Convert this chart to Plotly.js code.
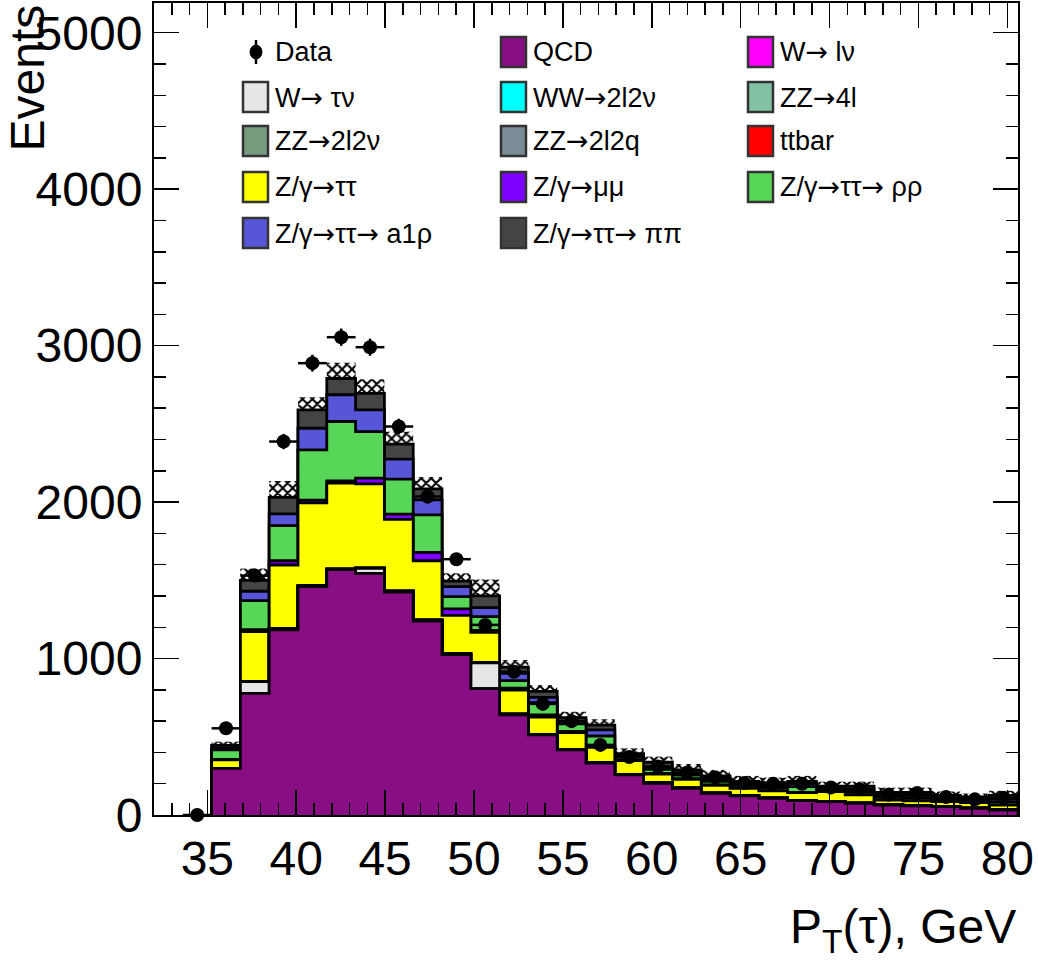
<!DOCTYPE html>
<html>
<head>
<meta charset="utf-8">
<script src="https://cdn.plot.ly/plotly-3.0.1.min.js"></script>
<style>html,body{margin:0;padding:0;background:#fff;}#chart{width:1038px;height:960px;}</style>
</head>
<body>
<div id="chart"></div>
<script>
// ---------------- data ----------------
const binEdges = [32.00, 33.62, 35.24, 36.86, 38.48, 40.10, 41.72, 43.34, 44.96, 46.58,
                  48.20, 49.82, 51.44, 53.06, 54.68, 56.30, 57.92, 59.54, 61.16, 62.78,
                  64.40, 66.02, 67.64, 69.26, 70.88, 72.50, 74.12, 75.74, 77.36, 78.98, 80.60];

const dataEvents = [null, 0, 554, 1530, 2387, 2888, 3054, 2990, 2483, 2036, 1635, 1215, 915, 710, 600,
                    448, 370, 310, 270, 240, 205, 200, 200, 175, 165, 130, 140, 115, 100, 110];

const qcd     = [0, 0, 298, 778, 1183, 1460, 1568, 1545, 1425, 1240, 1025, 808, 640, 512, 416,
                 331, 256, 203, 171, 139, 122, 107, 92, 85, 75, 64, 58, 53, 43, 32];
const wlnu    = [0,0,0,0,0,0,0,0,0,0,0,0,0,0,0,0,0,0,0,0,0,0,0,0,0,0,0,0,0,0];
const wtaunu  = [0, 0, 0, 74, 7, 5, 4, 32, 5, 5, 5, 164, 5, 3, 2, 2, 2, 2, 1, 1, 1, 1, 1, 1, 1, 1, 1, 1, 1, 1];
const ww2l2nu = [0,0,0,0,0,0,0,0,0,0,0,0,0,0,0,0,0,0,0,0,0,0,0,0,0,0,0,0,0,0];
const zz4l    = [0,0,0,0,0,0,0,0,0,0,0,0,0,0,0,0,0,0,0,0,0,0,0,0,0,0,0,0,0,0];
const zz2l2nu = [0,0,0,0,0,0,0,0,0,0,0,0,0,0,0,0,0,0,0,0,0,0,0,0,0,0,0,0,0,0];
const zz2l2q  = [0,0,0,0,0,0,0,0,0,0,0,0,0,0,0,0,0,0,0,0,0,0,0,0,0,0,0,0,0,0];
const ttbar   = [0,0,0,0,0,0,0,0,0,0,0,0,0,0,0,0,0,0,0,0,0,0,0,0,0,0,0,0,0,0];
const ztautau = [0, 0, 54, 320, 408, 530, 549, 540, 460, 380, 246, 195, 154, 110, 109,
                 100, 90, 57, 56, 50, 48, 46, 50, 63, 52, 31, 31, 31, 35, 31];
const zmumu   = [0, 0, 3, 13, 27, 17, 14, 36, 33, 53, 42, 13, 11, 15, 8, 7, 4, 4, 4, 3, 2, 2, 2, 2, 2, 1, 1, 1, 1, 1];
const zrhorho = [0, 0, 61, 185, 225, 322, 380, 298, 224, 240, 78, 88, 49, 78, 47,
                 65, 18, 26, 23, 22, 17, 19, 37, 14, 20, 18, 19, 14, 12, 20];
const za1rho  = [0, 0, 12, 60, 75, 138, 171, 139, 127, 96, 64, 57, 46, 34, 18,
                 39, 10, 13, 13, 13, 10, 13, 18, 10, 15, 13, 15, 10, 10, 20];
const zpipi   = [0, 0, 17, 70, 105, 118, 104, 105, 96, 71, 35, 75, 40, 38, 22,
                 31, 12, 32, 20, 22, 15, 17, 15, 10, 20, 17, 20, 15, 13, 20];
const mcError = [0, 0, 24, 75, 105, 80, 100, 90, 80, 75, 50, 105, 45, 40, 38,
                 37, 34, 36, 38, 38, 35, 34, 35, 28, 28, 30, 30, 25, 22, 30];

const ARR = '<span style="font-family:DejaVu Sans">\u2192</span>';
const sampleNames = ["QCD", "W" + ARR + " l\u03bd", "W" + ARR + " \u03c4\u03bd", "WW" + ARR + "2l2\u03bd", "ZZ" + ARR + "4l",
                     "ZZ" + ARR + "2l2\u03bd", "ZZ" + ARR + "2l2q", "ttbar", "Z/\u03b3" + ARR + "\u03c4\u03c4",
                     "Z/\u03b3" + ARR + "\u03bc\u03bc", "Z/\u03b3" + ARR + "\u03c4\u03c4" + ARR + " \u03c1\u03c1",
                     "Z/\u03b3" + ARR + "\u03c4\u03c4" + ARR + " a1\u03c1", "Z/\u03b3" + ARR + "\u03c4\u03c4" + ARR + " \u03c0\u03c0"];
const sampleValues = [qcd, wlnu, wtaunu, ww2l2nu, zz4l, zz2l2nu, zz2l2q, ttbar, ztautau, zmumu, zrhorho, za1rho, zpipi];
const sampleColors = ["#880e84", "#ff00ff", "#e6e6e6", "#00ffff", "#82c2a2", "#789b7f", "#7a8c97",
                      "#ff0000", "#ffff00", "#8000ff", "#57d657", "#5856d8", "#444444"];

// ---------------- build ----------------
const nb = qcd.length;
const centers = [];
for (let i = 0; i < nb; i++) centers.push((binEdges[i] + binEdges[i + 1]) / 2);
const binW = binEdges[1] - binEdges[0];

const cum = [];
let run = new Array(nb).fill(0);
sampleValues.forEach(v => { run = run.map((r, i) => r + v[i]); cum.push(run.slice()); });
const total = cum[cum.length - 1];

let first = 0; while (first < nb && total[first] <= 0) first++;

function stepPath(vals) {
  const xs = [binEdges[first]], ys = [0];
  for (let i = first; i < nb; i++) { xs.push(binEdges[i], binEdges[i + 1]); ys.push(vals[i], vals[i]); }
  xs.push(binEdges[nb]); ys.push(0);
  return {xs, ys};
}

const traces = [];
for (let k = cum.length - 1; k >= 0; k--) {
  const p = stepPath(cum[k]);
  traces.push({
    type: 'scatter', mode: 'lines', x: p.xs, y: p.ys, fill: 'tozeroy',
    fillcolor: sampleColors[k], line: {color: '#000', width: 2.8}, name: sampleNames[k],
    showlegend: false, hoverinfo: 'skip'
  });
}

// MC uncertainty band (hatched)
const bandBase = [], bandH = [], bandX = [];
for (let i = first; i < nb; i++) { bandX.push(centers[i]); bandBase.push(total[i] - mcError[i]); bandH.push(2 * mcError[i]); }
traces.push({
  type: 'bar', x: bandX, y: bandH, base: bandBase, width: binW, showlegend: false, hoverinfo: 'skip',
  marker: {color: 'rgba(0,0,0,0)', line: {width: 0},
           pattern: {shape: 'x', fgcolor: '#000', fgopacity: 1, bgcolor: 'rgba(0,0,0,0)', size: 7, solidity: 0.5, fillmode: 'overlay'}}
});

// data points
const dataErr = dataEvents.map(v => v == null ? null : Math.sqrt(v));
traces.push({
  type: 'scatter', mode: 'markers', x: centers, y: dataEvents, name: 'Data', showlegend: false,
  marker: {color: '#000', size: 14, symbol: 'circle'}, cliponaxis: false,
  error_x: {type: 'constant', value: binW / 2, color: '#000', thickness: 2.5, width: 0},
  error_y: {type: 'data', array: dataErr, color: '#000', thickness: 2.5, width: 0}
});

// ---------------- layout ----------------
const L = 154, R = 1018, T = 3, B = 815;
const px = x => (x - L) / (R - L);
const py = y => (B - y) / (B - T);

const shapes = [], annotations = [];
const legendOrder = ["Data"].concat(sampleNames);
const colX = [243, 501, 748], rowY = [52, 97, 141, 187, 233];
const legFont = {family: 'Liberation Sans, Arial, sans-serif', size: 27, color: '#000'};
legendOrder.forEach((name, idx) => {
  const c = idx % 3, r = Math.floor(idx / 3);
  const x0 = colX[c], yc = rowY[r];
  if (idx === 0) {
    shapes.push({type: 'line', xref: 'paper', yref: 'paper', x0: px(x0 + 13), x1: px(x0 + 13), y0: py(yc - 12), y1: py(yc + 12), line: {color: '#000', width: 2.5}});
    shapes.push({type: 'circle', xref: 'paper', yref: 'paper', x0: px(x0 + 7), x1: px(x0 + 19), y0: py(yc - 7), y1: py(yc + 7), fillcolor: '#000', line: {color: '#000', width: 1}});
  } else {
    shapes.push({type: 'rect', xref: 'paper', yref: 'paper', x0: px(x0), x1: px(x0 + 25), y0: py(yc - 15), y1: py(yc + 15),
                 fillcolor: sampleColors[idx - 1], line: {color: '#333', width: 2.5}});
  }
  annotations.push({xref: 'paper', yref: 'paper', x: px(x0 + 30), y: py(yc), xanchor: 'left', yanchor: 'middle',
                    text: name, showarrow: false, font: legFont});
});

const axFont = {family: 'Liberation Sans, Arial, sans-serif', size: 48, color: '#000'};
annotations.push({xref: 'paper', yref: 'paper', x: px(27), y: 1.0, xanchor: 'center', yanchor: 'top', textangle: -90,
                  text: 'Events', showarrow: false, font: axFont});
annotations.push({xref: 'paper', yref: 'paper', x: 1.0, y: py(962), xanchor: 'right', yanchor: 'bottom',
                  text: 'P<sub>T</sub>(\u03c4), GeV', showarrow: false, font: axFont});

const layout = {
  width: 1038, height: 960,
  margin: {l: L, r: 1038 - R, t: T, b: 960 - B, pad: 0},
  paper_bgcolor: '#fff', plot_bgcolor: '#fff',
  showlegend: false, barmode: 'overlay',
  font: {family: 'Liberation Sans, Arial, sans-serif', color: '#000'},
  xaxis: {range: [binEdges[0], binEdges[nb]], tick0: 0, dtick: 5, ticks: 'inside', ticklen: 25, tickwidth: 1.5,
          tickcolor: '#000', showline: true, linecolor: '#000', linewidth: 2, mirror: 'allticks', showgrid: false,
          zeroline: false, tickfont: axFont, minor: {dtick: 1, ticks: 'inside', ticklen: 12, tickwidth: 1.5, tickcolor: '#000', showgrid: false}},
  yaxis: {range: [0, 5190], dtick: 1000, ticks: 'inside', ticklen: 25, tickwidth: 1.5,
          tickcolor: '#000', showline: true, linecolor: '#000', linewidth: 2, mirror: 'allticks', showgrid: false,
          zeroline: false, tickfont: axFont, minor: {dtick: 200, ticks: 'inside', ticklen: 12, tickwidth: 1.5, tickcolor: '#000', showgrid: false}},
  shapes: shapes, annotations: annotations
};

Plotly.newPlot('chart', traces, layout, {staticPlot: true, displayModeBar: false});
</script>
</body>
</html>
